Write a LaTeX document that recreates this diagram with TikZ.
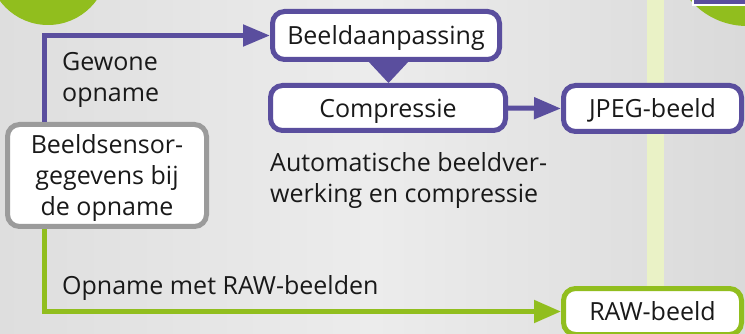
\documentclass[tikz,border=0pt]{standalone}
\usepackage{fontspec}
\setmainfont{Open Sans}
\usetikzlibrary{arrows.meta}
\definecolor{purp}{RGB}{90,78,158}
\definecolor{grn}{RGB}{145,190,30}
\definecolor{grndark}{RGB}{80,120,15}
\definecolor{boxgray}{RGB}{155,155,155}
\definecolor{bandc}{RGB}{234,242,198}
\definecolor{txt}{RGB}{25,25,25}
\definecolor{bgL}{RGB}{222,222,222}
\definecolor{bgM}{RGB}{236,236,236}
\definecolor{bgR}{RGB}{218,218,218}
\begin{document}
\begin{tikzpicture}[x=1pt,y=-1pt,
  txtfont/.style={text=txt, font=\fontsize{25}{31}\selectfont},
  box/.style={draw=purp, line width=5pt, rounded corners=12pt, fill=white, inner sep=0pt, align=center, text depth=0pt, txtfont},
  graybox/.style={box, draw=boxgray},
  greenbox/.style={box, draw=grn},
  lbl/.style={align=left, inner sep=0pt, txtfont},
  pline/.style={draw=purp, line width=5pt, -{Triangle[length=27pt,width=21pt]}},
  gline/.style={draw=grn, line width=5pt, -{Triangle[length=27pt,width=22pt]}}]
\useasboundingbox (0,0) rectangle (745,334);
\clip (0,0) rectangle (745,334);
% background
\shade[left color=bgL, right color=bgR, middle color=bgM] (0,0) rectangle (745,334);
% vertical band
\fill[bandc] (647,-5) rectangle (664,300);
% decorative circles (cut off)
\shade[top color=grndark, bottom color=grn, middle color=grn] (48,-35) circle (60);
\shade[top color=grndark, bottom color=grn, middle color=grn] (747,-49) circle (75);
\fill[purp, draw=white, line width=1.5pt] (693,-20) rectangle (760,5);
% boxes
\node[box, minimum width=227pt, minimum height=48pt] (aanp) at (386,35.5) {Beeldaanpassing};
\node[box, minimum width=235pt, minimum height=45pt] (comp) at (388,108) {Compressie};
\node[box, minimum width=178pt, minimum height=46pt] (jpeg) at (652.5,108.5) {JPEG-beeld};
\node[graybox, minimum width=199pt, minimum height=102pt] (sensor) at (107,175.5) {Beeldsensor-\\gegevens bij\\de opname};
\node[greenbox, minimum width=178pt, minimum height=46pt] (raw) at (652.5,311.5) {RAW-beeld};
% triangle between Beeldaanpassing and Compressie
\fill[purp] (367,60) -- (410,60) -- (388.5,83) -- cycle;
% connectors
\coordinate (px) at (44,0);
\draw[pline] (px |- sensor.north) |- (aanp.west);
\draw[gline] (px |- sensor.south) |- (raw.west);
\draw[pline] (comp.east) -- (jpeg.west);
% labels
\node[lbl, anchor=base west] (gew) at (62,102) {Gewone\\opname};
\node[lbl, anchor=base west] (auto) at (270,203) {Automatische beeldver-\\werking en compressie};
\node[lbl, anchor=base west] (rawlbl) at (62,294) {Opname met RAW-beelden};
\end{tikzpicture}
\end{document}
